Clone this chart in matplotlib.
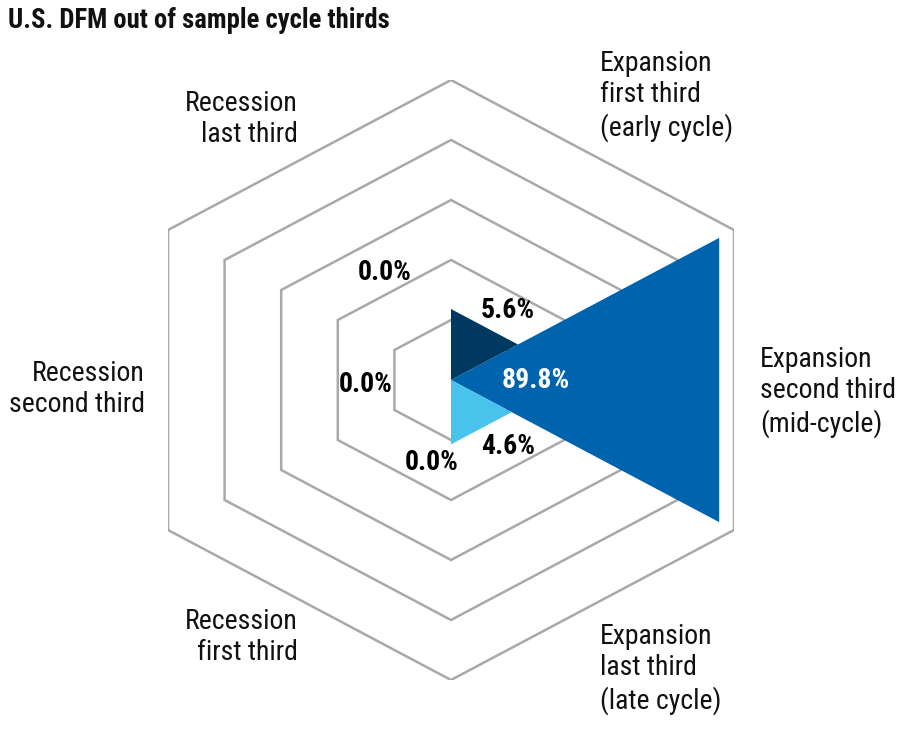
import numpy as np
import matplotlib
matplotlib.use("Agg")
import matplotlib.pyplot as plt
from matplotlib.patches import Polygon

title = "U.S. DFM out of sample cycle thirds"
categories = ["Expansion\nsecond third\n(mid-cycle)",
              "Expansion\nfirst third\n(early cycle)",
              "Recession\nlast third",
              "Recession\nsecond third",
              "Recession\nfirst third",
              "Expansion\nlast third\n(late cycle)"]
values = [89.8, 5.6, 0.0, 0.0, 0.0, 4.6]
value_labels = ["89.8%", "5.6%", "0.0%", "0.0%", "0.0%", "4.6%"]
center_angles_deg = [0, 60, 120, 180, 240, 300]
colors = ["#0063AE", "#00395F", "#00395F", "#00395F", "#48C4EC", "#48C4EC"]
grid_levels = [0.2, 0.4, 0.6, 0.8, 1.0]
max_value = 100.0

fam = ["Roboto Condensed", "Liberation Sans Narrow", "Roboto", "DejaVu Sans"]
plt.rcParams['font.family'] = fam

fig = plt.figure(figsize=(9.19, 7.38), dpi=100)
ax = fig.add_axes([168/919, (738-680)/738, 566/919, 600/738])
c30 = np.cos(np.radians(30))
ax.set_xlim(-c30, c30)
ax.set_ylim(-1, 1)
ax.axis("off")

vert_angles = np.radians(np.arange(30, 390, 60))
for g in grid_levels:
    xs = g * np.cos(vert_angles)
    ys = g * np.sin(vert_angles)
    ax.add_patch(Polygon(np.column_stack([xs, ys]), closed=True, fill=False,
                         edgecolor="#A7A9AC", lw=1.8, zorder=1))

for v, a, col in zip(values, center_angles_deg, colors):
    r = np.sqrt(v / max_value)
    if r <= 0:
        continue
    a1 = np.radians(a - 30)
    a2 = np.radians(a + 30)
    pts = [(0, 0), (r*np.cos(a1), r*np.sin(a1)), (r*np.cos(a2), r*np.sin(a2))]
    ax.add_patch(Polygon(pts, closed=True, facecolor=col, edgecolor="none", zorder=2))

def px2d(px, py):
    return ((px - 451) / 283 * c30, (380 - py) / 300)

cat_pos = [((760, 392), "left"), ((600, 96), "left"), ((298, 119), "right"),
           ((145, 389), "right"), ((298, 637), "right"), ((600, 669), "left")]
for lab, ((px, py), ha) in zip(categories, cat_pos):
    x, y = px2d(px, py)
    ax.text(x, y, lab, ha=ha, va="center", fontsize=20, color="#111111",
            linespacing=1.19, clip_on=False, multialignment=ha)

val_pos = [(536, 381), (508, 311), (385, 272), (366, 384), (432, 462), (508, 447)]
for lab, (px, py), v in zip(value_labels, val_pos, values):
    x, y = px2d(px, py)
    col = "white" if v > 50 else "black"
    ax.text(x, y, lab, ha="center", va="center", fontsize=20, fontweight="bold",
            color=col, clip_on=False, zorder=3)

fig.text(8/919, 1 - 7/738, title, ha="left", va="top", fontsize=19.2,
         fontweight="bold", color="#111111")

fig.savefig("out.png", dpi=100, facecolor="white")
